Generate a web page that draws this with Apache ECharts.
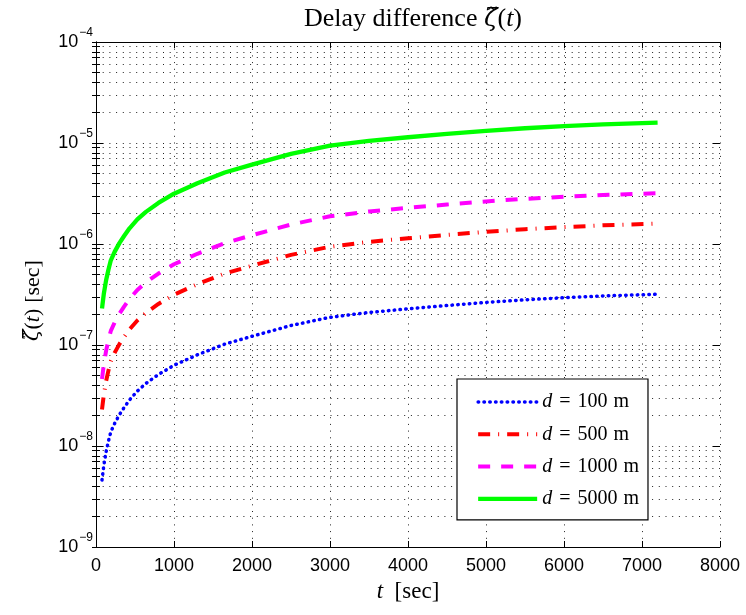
<!DOCTYPE html>
<html>
<head>
<meta charset="utf-8">
<script src="https://cdn.jsdelivr.net/npm/echarts@6/dist/echarts.min.js"></script>
<style>
html,body{margin:0;padding:0;background:#fff;}
#chart{width:746px;height:615px;}
</style>
</head>
<body>
<div id="chart"></div>
<script>
// time samples [sec]
const tSec = [77, 100, 130, 160, 190, 240, 300, 360, 430, 530, 640, 800, 1000, 1300, 1650, 2000, 2500, 3000, 3500, 4000, 4500, 5000, 5500, 6000, 6500, 7200];
// d = 100 m
const d100 = [4.6e-9, 6.4e-9, 8.8e-9, 1.12e-8, 1.38e-8, 1.68e-8, 2.04e-8, 2.4e-8, 2.86e-8, 3.5e-8, 4.16e-8, 5.1e-8, 6.3e-8, 8.0e-8, 1.02e-7, 1.22e-7, 1.56e-7, 1.88e-7, 2.1e-7, 2.28e-7, 2.46e-7, 2.64e-7, 2.8e-7, 2.94e-7, 3.06e-7, 3.18e-7];
// d = 500 m
const d500 = [2.3e-8, 3.2e-8, 4.4e-8, 5.6e-8, 6.9e-8, 8.4e-8, 1.02e-7, 1.2e-7, 1.43e-7, 1.75e-7, 2.08e-7, 2.55e-7, 3.15e-7, 4.0e-7, 5.1e-7, 6.1e-7, 7.8e-7, 9.4e-7, 1.05e-6, 1.14e-6, 1.23e-6, 1.32e-6, 1.4e-6, 1.47e-6, 1.53e-6, 1.59e-6];
// d = 1000 m
const d1000 = [4.6e-8, 6.4e-8, 8.8e-8, 1.12e-7, 1.38e-7, 1.68e-7, 2.04e-7, 2.4e-7, 2.86e-7, 3.5e-7, 4.16e-7, 5.1e-7, 6.3e-7, 8.0e-7, 1.02e-6, 1.22e-6, 1.56e-6, 1.88e-6, 2.1e-6, 2.28e-6, 2.46e-6, 2.64e-6, 2.8e-6, 2.94e-6, 3.06e-6, 3.18e-6];
// d = 5000 m
const d5000 = [2.3e-7, 3.2e-7, 4.4e-7, 5.6e-7, 6.9e-7, 8.4e-7, 1.02e-6, 1.2e-6, 1.43e-6, 1.75e-6, 2.08e-6, 2.55e-6, 3.15e-6, 4.0e-6, 5.1e-6, 6.1e-6, 7.8e-6, 9.4e-6, 1.05e-5, 1.14e-5, 1.23e-5, 1.32e-5, 1.4e-5, 1.47e-5, 1.53e-5, 1.59e-5];

const seriesNames = ['d = 100 m', 'd = 500 m', 'd = 1000 m', 'd = 5000 m'];
const majorY = [1e-9, 1e-8, 1e-7, 1e-6, 1e-5, 1e-4];
const xTicks = [0, 1000, 2000, 3000, 4000, 5000, 6000, 7000, 8000];

const minorY = [];
for (let e = -9; e < -4; e++) {
  for (let m = 1; m <= 9; m++) minorY.push(parseFloat((m * Math.pow(10, e)).toPrecision(3)));
}
minorY.push(1e-4);

const serif = 'Liberation Serif';
const zfont = 'DejaVu Serif';
const sans = 'Liberation Sans';
const dotted = [1, 5.7];

const styles = [
  {color: '#0000ff', width: 3.5, type: [0.5, 5.3], cap: 'round'},
  {color: '#ff0000', width: 4, type: [12, 8, 1, 8]},
  {color: '#ff00ff', width: 4, type: [12, 11]},
  {color: '#00ff00', width: 4.3, type: 'solid'}
];
const dataSets = [d100, d500, d1000, d5000];

function pairs(arr) { return tSec.map((t, i) => [t, arr[i]]); }
function mathRich(size) {
  return {
    n: {fontFamily: serif, fontSize: size, color: '#000'},
    i: {fontFamily: serif, fontSize: size, fontStyle: 'italic', color: '#000'},
    z: {fontFamily: zfont, fontSize: size - 1, fontStyle: 'italic', color: '#000'},
    p: {fontFamily: serif, fontSize: size, color: '#000', padding: [0, 12, 0, 6]}
  };
}

const chart = echarts.init(document.getElementById('chart'), null, {renderer: 'canvas'});

const yBase = {
  type: 'log', logBase: 10, min: 1e-9, max: 1e-4,
  axisLine: {show: true, lineStyle: {color: '#000', width: 1}},
  splitLine: {show: false},
  axisLabel: {show: false},
  axisTick: {show: false}
};
const xBase = {
  type: 'value', min: 0, max: 8000, interval: 1000,
  axisLine: {show: true, onZero: false, lineStyle: {color: '#000', width: 1}},
  splitLine: {show: false},
  axisLabel: {show: false},
  axisTick: {show: false}
};

const option = {
  animation: false,
  backgroundColor: '#fff',
  title: {
    text: '{n|Delay difference }{z|ζ̃}{n|(}{i|t}{n|)}',
    left: 408, top: 1, textAlign: 'center',
    textStyle: {fontWeight: 'normal', rich: mathRich(26)}
  },
  grid: {left: 96, right: 26, top: 42, bottom: 68, containLabel: false, outerBoundsMode: 'none'},
  xAxis: [
    Object.assign({}, xBase, {
      position: 'bottom',
      name: '{i|t}{n|  [sec]}',
      nameLocation: 'middle', nameGap: 33,
      nameTextStyle: {rich: mathRich(23)},
      axisTick: {show: true, inside: true, length: 6, lineStyle: {color: '#000'}},
      axisLabel: {show: true, margin: 10, fontFamily: sans, fontSize: 18, color: '#000',
        customValues: xTicks, formatter: function (v) { return String(v); }},
      splitLine: {show: true, lineStyle: {color: '#222', type: dotted, width: 1}}
    }),
    Object.assign({}, xBase, {
      position: 'top',
      axisTick: {show: true, inside: true, length: 6, lineStyle: {color: '#000'}}
    })
  ],
  yAxis: [
    Object.assign({}, yBase, {
      position: 'left',
      name: '{z|ζ̃}{n|(}{i|t}{n|)}{p|[sec]}',
      nameLocation: 'middle', nameGap: 52, nameRotate: 90,
      nameTextStyle: {rich: mathRich(22)},
      axisTick: {show: true, inside: true, length: 4, lineStyle: {color: '#000'}, customValues: minorY},
      axisLabel: {
        show: true, margin: 3, customValues: majorY,
        formatter: function (v) {
          const e = Math.round(Math.log10(v));
          return '{b|10}{s|−' + (-e) + '}';
        },
        rich: {
          b: {fontFamily: sans, fontSize: 18, color: '#000'},
          s: {fontFamily: sans, fontSize: 12, color: '#000', verticalAlign: 'bottom', padding: [0, 0, 18, 1]}
        }
      },
      splitLine: {show: true, lineStyle: {color: '#222', type: dotted, width: 1}}
    }),
    Object.assign({}, yBase, {
      position: 'right',
      axisTick: {show: true, inside: true, length: 4, lineStyle: {color: '#000'}, customValues: minorY}
    }),
    Object.assign({}, yBase, {
      position: 'left',
      axisLine: {show: false},
      axisTick: {show: true, inside: true, length: 7, lineStyle: {color: '#000'}, customValues: majorY}
    }),
    Object.assign({}, yBase, {
      position: 'right',
      axisLine: {show: false},
      axisTick: {show: true, inside: true, length: 7, lineStyle: {color: '#000'}, customValues: majorY}
    })
  ],
  legend: {
    show: true,
    orient: 'vertical',
    left: 457, top: 379,
    padding: [13, 9, 11, 19],
    itemGap: 12.3,
    itemWidth: 59, itemHeight: 14,
    backgroundColor: '#fff',
    borderColor: '#000', borderWidth: 1.2,
    borderRadius: 0,
    data: seriesNames.map((n, k) => ({
      name: n,
      itemStyle: {opacity: 0},
      lineStyle: Object.assign({}, styles[k])
    })),
    formatter: function (name) {
      return '{i|d}{e|=}{n|' + name.slice(4, -2) + '}{n|m}';
    },
    textStyle: {
      rich: {
        i: {fontFamily: serif, fontSize: 20, fontStyle: 'italic', color: '#000'},
        e: {fontFamily: serif, fontSize: 20, color: '#000', padding: [0, 7, 0, 7]},
        n: {fontFamily: serif, fontSize: 20, color: '#000', padding: [0, 6, 0, 0]}
      }
    }
  },
  series: seriesNames.map((n, k) => ({
    name: n, type: 'line', data: pairs(dataSets[k]), xAxisIndex: 0, yAxisIndex: 0,
    showSymbol: false, symbol: 'none', smooth: false,
    lineStyle: styles[k],
    itemStyle: {color: styles[k].color}, z: 5
  }))
};
chart.setOption(option);
</script>
</body>
</html>
